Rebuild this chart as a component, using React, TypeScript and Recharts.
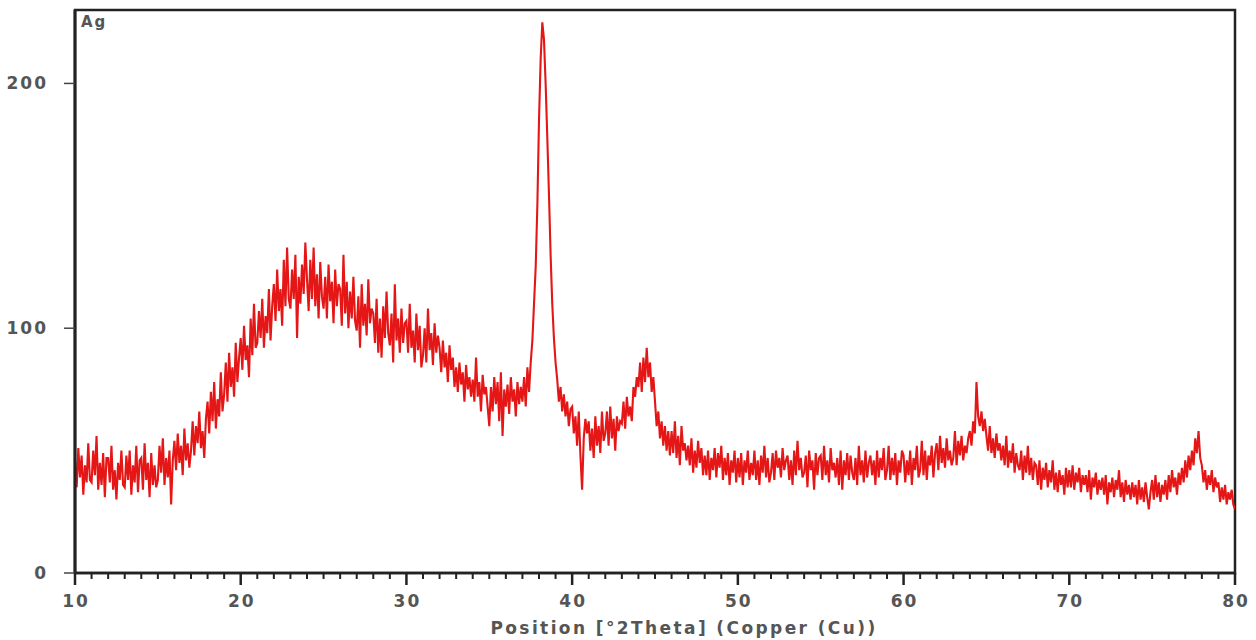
import React from "react";
import { LineChart, Line, XAxis, YAxis, ReferenceArea } from "recharts";

const startAngle = 10;
const stepAngle = 0.1;

// intensity counts, 10 per degree (x.0 ... x.9)
const counts: number[] = [
  46, 35, 51, 39, 48, 32, 44, 37, 53, 38,
  37, 50, 40, 56, 34, 45, 36, 49, 31, 47,
  47, 37, 52, 34, 42, 30, 45, 38, 50, 36,
  35, 48, 38, 50, 32, 44, 37, 52, 33, 46,
  47, 34, 53, 38, 45, 31, 49, 36, 44, 35,
  38, 52, 41, 55, 36, 47, 39, 50, 28, 46,
  54, 42, 57, 45, 52, 40, 59, 46, 53, 43,
  50, 62, 48, 60, 53, 66, 51, 58, 47, 63,
  70, 57, 74, 62, 78, 59, 71, 64, 82, 66,
  73, 86, 70, 90, 76, 84, 72, 94, 78, 88,
  96, 83, 101, 87, 93, 80, 104, 89, 110, 92,
  94, 107, 96, 112, 92, 105, 98, 116, 95, 109,
  118, 103, 124, 107, 116, 101, 128, 109, 133, 112,
  108, 124, 112, 130, 96, 121, 110, 126, 114, 135,
  120, 107, 128, 112, 133, 109, 122, 104, 127, 113,
  108, 121, 104, 126, 111, 119, 102, 124, 109, 118,
  116, 101, 130, 106, 119, 100, 115, 104, 121, 103,
  99, 113, 92, 118, 101, 110, 97, 120, 102, 108,
  106, 94, 112, 90, 104, 88, 109, 96, 115, 98,
  93, 106, 86, 118, 95, 104, 90, 108, 94, 102,
  103, 90, 110, 92, 99, 86, 106, 91, 101, 84,
  89, 100, 86, 108, 91, 98, 85, 102, 90, 97,
  92, 82, 95, 84, 90, 78, 93, 83, 88, 76,
  84, 74, 86, 77, 82, 70, 85, 75, 80, 72,
  79, 70, 88, 72, 78, 66, 81, 73, 76, 68,
  60, 76, 66, 80, 69, 78, 62, 82, 56, 75,
  68, 77, 65, 80, 70, 75, 64, 78, 69, 76,
  70, 80, 68, 84, 74, 86, 95, 110, 125, 150,
  185, 210, 225, 218, 200, 178, 155, 130, 110, 96,
  86, 79, 70, 76, 66, 73, 64, 70, 60, 67,
  68, 57, 64, 52, 66, 48, 34, 55, 63, 57,
  62, 50, 59, 47, 64, 52, 60, 49, 66, 54,
  57, 66, 52, 68, 55, 63, 50, 64, 58, 62,
  61, 70, 59, 72, 64, 68, 62, 76, 72, 80,
  76, 86, 74, 88, 78, 92, 80, 86, 74, 80,
  70, 60, 66, 55, 62, 52, 60, 50, 58, 48,
  58, 49, 62, 47, 56, 44, 60, 50, 53, 46,
  52, 44, 55, 41, 50, 43, 54, 45, 51, 40,
  48, 40, 50, 38, 47, 42, 51, 39, 49, 43,
  52, 38, 47, 40, 49, 36, 46, 41, 50, 37,
  47, 39, 49, 36, 46, 41, 50, 38, 45, 40,
  50, 38, 46, 36, 48, 41, 52, 39, 47, 37,
  41, 49, 38, 50, 43, 47, 39, 51, 42, 46,
  48, 38, 46, 36, 50, 40, 54, 42, 47, 39,
  41, 48, 35, 50, 42, 46, 34, 49, 40, 47,
  48, 38, 52, 40, 46, 37, 51, 42, 45, 39,
  47, 36, 50, 34, 46, 40, 49, 38, 48, 41,
  38, 47, 36, 52, 40, 46, 37, 50, 39, 45,
  48, 40, 46, 36, 50, 39, 47, 42, 51, 38,
  42, 52, 38, 47, 40, 49, 36, 46, 41, 50,
  48, 37, 46, 40, 50, 36, 47, 42, 52, 39,
  42, 54, 40, 50, 38, 48, 44, 52, 39, 49,
  53, 42, 56, 45, 51, 43, 55, 46, 50, 44,
  47, 58, 44, 54, 48, 56, 46, 52, 49, 55,
  58, 52, 62, 57, 78, 64, 60, 66, 58, 63,
  56, 50, 60, 49, 55, 47, 57, 50, 53, 46,
  52, 44, 56, 43, 50, 45, 53, 41, 49, 44,
  42, 50, 38, 48, 41, 52, 40, 47, 38, 45,
  44, 36, 46, 34, 43, 38, 45, 35, 42, 37,
  46, 34, 41, 33, 42, 36, 40, 32, 43, 35,
  42, 35, 44, 34, 41, 37, 43, 33, 40, 36,
  40, 33, 42, 30, 39, 35, 41, 32, 38, 34,
  39, 32, 40, 28, 37, 33, 39, 31, 38, 34,
  42, 31, 37, 29, 38, 32, 36, 30, 37, 31,
  36, 28, 38, 30, 35, 29, 37, 31, 26, 33,
  38, 30, 40, 31, 37, 29, 36, 32, 38, 30,
  40, 33, 42, 35, 39, 32, 41, 36, 43, 37,
  46, 39, 48, 42, 50, 44, 55, 49, 58, 47,
  44, 37, 42, 34, 40, 36, 42, 33, 39, 35,
  37, 29, 35, 30, 36, 28, 33, 30, 34, 28,
  26,
];

const xTicks: number[] = [10, 11, 12, 13, 14, 15, 16, 17, 18, 19, 20, 21, 22, 23, 24, 25, 26, 27, 28, 29, 30, 31, 32, 33, 34, 35, 36, 37, 38, 39, 40, 41, 42, 43, 44, 45, 46, 47, 48, 49, 50, 51, 52, 53, 54, 55, 56, 57, 58, 59, 60, 61, 62, 63, 64, 65, 66, 67, 68, 69, 70, 71, 72, 73, 74, 75, 76, 77, 78, 79, 80];
const yTicks: number[] = [0, 100, 200];
const sampleName = "Ag";
const xTitle = "Position [°2Theta] (Copper (Cu))";

const data = counts.map((c, i) => ({
  angle: Math.round((startAngle + i * stepAngle) * 10) / 10,
  counts: c,
}));

const FONT = "'DejaVu Sans', Verdana, sans-serif";
const LABEL_COLOR = "#555";

const XTick = (props: any) => {
  const { x, y, payload } = props;
  const v = payload.value as number;
  const major = v % 10 === 0;
  return (
    <g>
      <line x1={x} x2={x} y1={y} y2={y + (major ? 12 : 6)} stroke="#222" strokeWidth={major ? 2.5 : 2} />
      {major && (
        <text
          x={x + 1}
          y={y + 34}
          textAnchor="middle"
          fill={LABEL_COLOR}
          fontSize={17}
          fontWeight={600}
          letterSpacing={2}
          fontFamily={FONT}
        >
          {v}
        </text>
      )}
    </g>
  );
};

const YTick = (props: any) => {
  const { x, y, payload } = props;
  return (
    <text
      x={x - 6}
      y={y + 6}
      textAnchor="end"
      fill={LABEL_COLOR}
      fontSize={17}
      fontWeight={600}
      letterSpacing={2}
      fontFamily={FONT}
    >
      {payload.value}
    </text>
  );
};

export default function App() {
  return (
    <div style={{ position: "absolute", left: 0, top: 0, width: 1256, height: 640, background: "#fff" }}>
      <LineChart
        width={1256}
        height={640}
        data={data}
        margin={{ top: 10, right: 21, bottom: 27, left: 15 }}
      >
        <XAxis
          dataKey="angle"
          type="number"
          domain={[10, 80]}
          ticks={xTicks}
          interval={0}
          tick={<XTick />}
          tickLine={false}
          tickSize={0}
          tickMargin={0}
          axisLine={{ stroke: "#222", strokeWidth: 2.5 }}
          height={40}
          allowDataOverflow
        />
        <YAxis
          type="number"
          domain={[0, 230]}
          ticks={yTicks}
          interval={0}
          width={60}
          tickSize={11}
          tickMargin={10}
          tickLine={{ stroke: "#444", strokeWidth: 1.5 }}
          axisLine={{ stroke: "#222", strokeWidth: 3 }}
          tick={<YTick />}
          allowDataOverflow
        />
        <ReferenceArea x1={10} x2={80} y1={0} y2={230} fill="none" stroke="#222" strokeWidth={2.5} fillOpacity={0} />
        <Line
          type="linear"
          dataKey="counts"
          stroke="#e41616"
          strokeWidth={2.1}
          strokeLinejoin="miter"
          dot={false}
          isAnimationActive={false}
        />
      </LineChart>
      <div
        style={{
          position: "absolute",
          left: 81,
          top: 13,
          fontFamily: FONT,
          fontSize: 15,
          fontWeight: 600,
          letterSpacing: 2,
          color: LABEL_COLOR,
          lineHeight: "18px",
        }}
      >
        {sampleName}
      </div>
      <div
        style={{
          position: "absolute",
          left: 0,
          width: 1368,
          top: 618,
          textAlign: "center",
          fontFamily: FONT,
          fontSize: 17,
          fontWeight: 600,
          letterSpacing: 2.4,
          color: LABEL_COLOR,
          lineHeight: "20px",
        }}
      >
        {xTitle}
      </div>
    </div>
  );
}
